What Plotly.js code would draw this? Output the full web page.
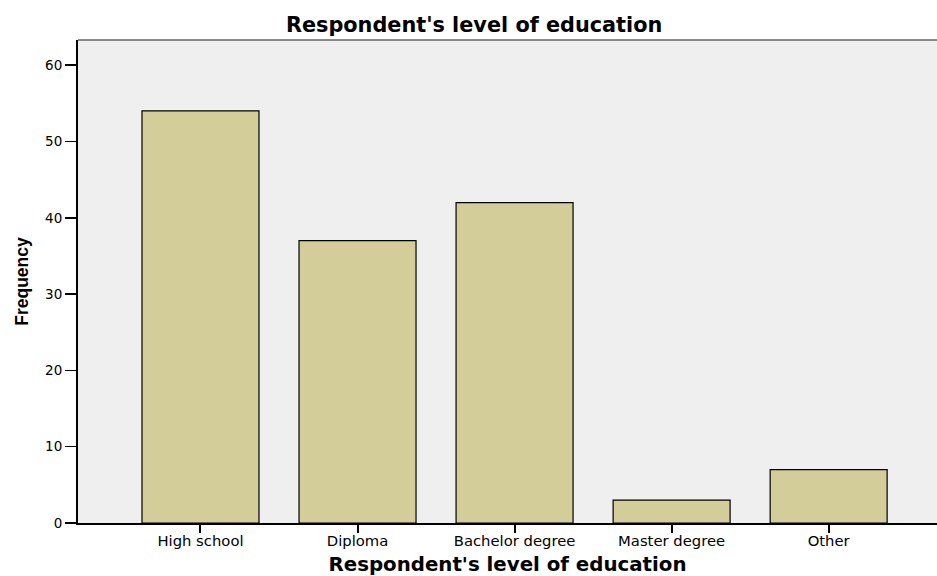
<!DOCTYPE html>
<html>
<head>
<meta charset="utf-8">
<script src="https://cdn.plot.ly/plotly-3.0.1.min.js"></script>
<style>
  html, body { margin: 0; padding: 0; background: #fff; }
  #chart { width: 937px; height: 576px; }
</style>
</head>
<body>
<div id="chart"></div>
<script>
// Education level frequencies
const categories = ["High school", "Diploma", "Bachelor degree", "Master degree", "Other"];
const frequencies = [54, 37, 42, 3, 7];
const yTicks = [0, 10, 20, 30, 40, 50, 60];

const wideFont = "DejaVu Sans, Verdana, sans-serif";

const trace = {
  type: "bar",
  x: categories.map((_, i) => i),
  y: frequencies,
  width: 0.745,
  marker: { color: "#d3ce99", line: { color: "#000000", width: 1.2 } },
  hoverinfo: "x+y"
};

const layout = {
  width: 937,
  height: 576,
  margin: { l: 78, r: 0, t: 40, b: 53 },
  paper_bgcolor: "#ffffff",
  plot_bgcolor: "#efefef",
  showlegend: false,
  bargap: 0,
  title: {
    text: "Respondent's level of education",
    font: { family: wideFont, size: 20.8, color: "#000", weight: "bold" },
    x: 0.506, xanchor: "center",
    y: 1 - 25 / 576, yanchor: "middle", yref: "container"
  },
  xaxis: {
    range: [-0.78, 4.69],
    tickmode: "array",
    tickvals: categories.map((_, i) => i),
    ticktext: categories,
    ticks: "outside", ticklen: 8, tickwidth: 2, tickcolor: "#000",
    ticklabelstandoff: -4,
    showline: true, linecolor: "#000", linewidth: 1.5,
    showgrid: false, zeroline: false,
    tickfont: { family: wideFont, size: 14.8, color: "#000" },
    title: {
      text: "Respondent's level of education",
      font: { family: wideFont, size: 19.8, color: "#000", weight: "bold" },
      standoff: 17
    },
    automargin: false,
    fixedrange: true
  },
  yaxis: {
    range: [0, 63.3],
    tickmode: "array",
    tickvals: yTicks,
    ticktext: yTicks.map(String),
    ticks: "outside", ticklen: 11, tickwidth: 1.5, tickcolor: "#000",
    showline: true, linecolor: "#000", linewidth: 2,
    showgrid: false, zeroline: false,
    tickfont: { family: wideFont, size: 13.5, color: "#000" },
    title: {
      text: "Frequency",
      font: { family: "Liberation Sans, Arial, sans-serif", size: 17.5, color: "#000", weight: "bold" },
      standoff: 12
    },
    automargin: false,
    fixedrange: true
  },
  shapes: [
    {
      type: "line", xref: "paper", yref: "paper",
      x0: 0, x1: 1, y0: 1, y1: 1,
      line: { color: "#666666", width: 1.5 }
    }
  ]
};

Plotly.newPlot("chart", [trace], layout, { displayModeBar: false, staticPlot: true });
</script>
</body>
</html>
